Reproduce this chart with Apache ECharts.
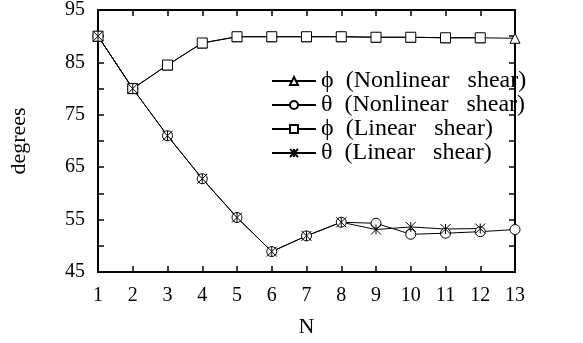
<!DOCTYPE html>
<html><head><meta charset="utf-8">
<script src="https://cdn.jsdelivr.net/npm/echarts@6/dist/echarts.min.js"></script>
<style>html,body{margin:0;padding:0;background:#fff}#c{width:583px;height:343px}</style>
</head><body><div id="c"></div>
<script>
const N_nonlinear = [1,2,3,4,5,6,7,8,9,10,11,12,13];
const N_linear = [1,2,3,4,5,6,7,8,9,10,11,12];
const phiNonlinear = [90,80,84.5,88.7,89.9,89.9,89.9,89.9,89.8,89.8,89.7,89.7,89.6];
const thetaNonlinear = [90,80,71,62.8,55.4,48.9,51.9,54.5,54.3,52.2,52.4,52.7,53.1];
const phiLinear = [90,80,84.5,88.7,89.9,89.9,89.9,89.9,89.8,89.8,89.7,89.7];
const thetaLinear = [90,80,71,62.8,55.4,48.9,51.9,54.5,53.1,53.6,53.2,53.3];
const yTicks = [45,55,65,75,85,95];
const seriesNames = ['ϕ  (Nonlinear   shear)','θ  (Nonlinear   shear)','ϕ  (Linear   shear)','θ  (Linear   shear)'];

const font = 'Liberation Serif';
const zip = (xs, ys) => xs.map((x,i)=>[x, ys[i]]);
const star = 'path://M0,0L10,10M10,0L0,10M5,0L5,10';

const chart = echarts.init(document.getElementById('c'));
const axisCommon = {
  axisLine:{show:true, onZero:false, lineStyle:{color:'#000', width:2}},
  axisTick:{show:true, inside:true, length:6, lineStyle:{color:'#000', width:1.5}},
  splitLine:{show:false}
};
function mk(name, data, symbol, size){
  return {name, type:'line', data, symbol, symbolSize:size, showSymbol:true,
    lineStyle:{color:'#000', width:1}, itemStyle:{color:'#fff', borderColor:'#000', borderWidth:1},
    emphasis:{disabled:true}, animation:false};
}
chart.setOption({
  animation:false,
  grid:{left:98, right:68, top:10, bottom:71},
  legend:{orient:'vertical', left:266, top:64, itemWidth:44, itemHeight:10, itemGap:0,
    textStyle:{fontFamily:font, fontSize:24, color:'#000'}, data:seriesNames},
  xAxis:[
    Object.assign({type:'value', min:1, max:13, interval:1, name:'N', nameLocation:'middle', nameGap:44,
      nameTextStyle:{fontFamily:font, fontSize:22, color:'#000'},
      axisLabel:{fontFamily:font, fontSize:20, color:'#000', margin:14}}, axisCommon),
    Object.assign({type:'value', position:'top', min:1, max:13, interval:1, axisLabel:{show:false}}, axisCommon)
  ],
  yAxis:[
    Object.assign({type:'value', min:45, max:95, interval:10, name:'degrees', nameLocation:'middle', nameGap:68,
      nameTextStyle:{fontFamily:font, fontSize:22, color:'#000'},
      axisLabel:{fontFamily:font, fontSize:20, color:'#000', margin:13},
      minorTick:{show:true, splitNumber:2, length:6, lineStyle:{color:'#000', width:1.5}}}, axisCommon),
    Object.assign({type:'value', position:'right', min:45, max:95, interval:10, axisLabel:{show:false},
      minorTick:{show:true, splitNumber:2, length:6, lineStyle:{color:'#000', width:1.5}}}, axisCommon)
  ],
  series:[
    mk(seriesNames[0], zip(N_nonlinear, phiNonlinear), 'triangle', 10),
    mk(seriesNames[1], zip(N_nonlinear, thetaNonlinear), 'circle', 10),
    mk(seriesNames[2], zip(N_linear, phiLinear), 'rect', 10),
    mk(seriesNames[3], zip(N_linear, thetaLinear), star, 10)
  ]
});
</script></body></html>
